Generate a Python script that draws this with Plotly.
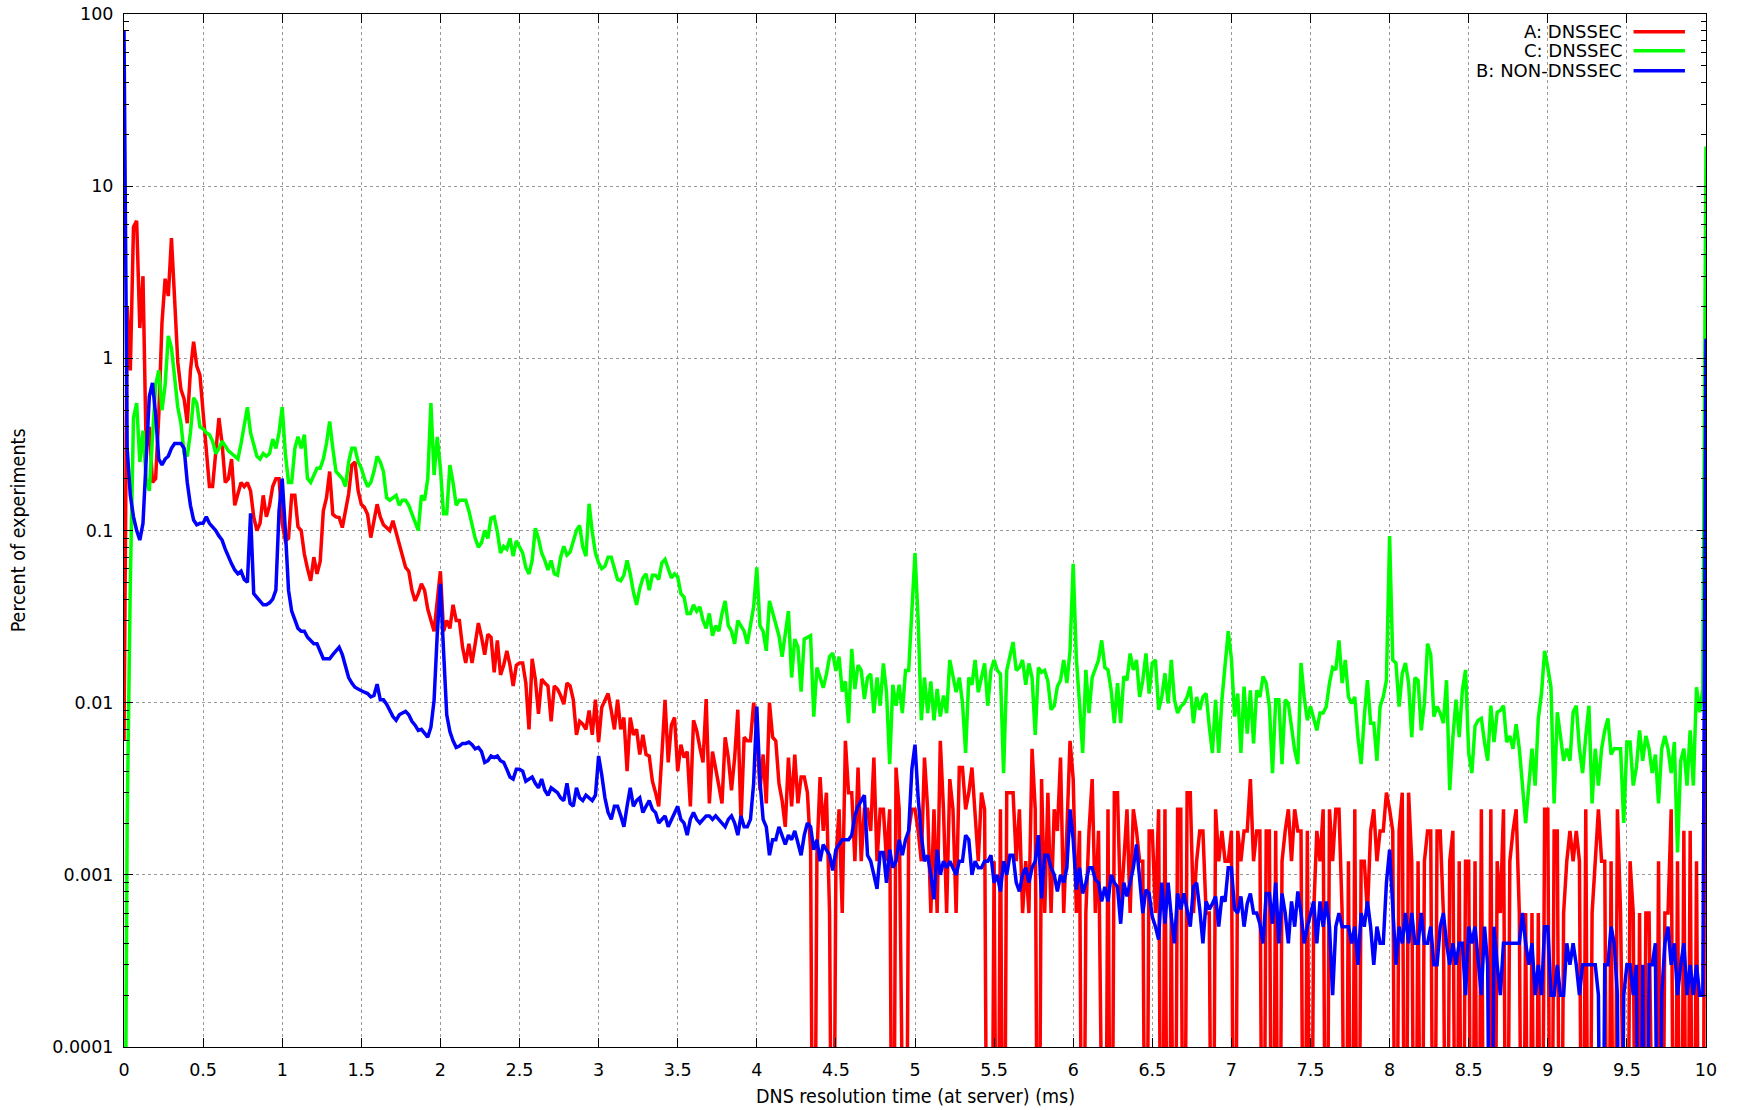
import plotly.graph_objects as go

# ---------------- data (percent of experiments per 0.02 ms bin) ----------------
BIN_MS = 0.02

red_a_dnssec = [
    0.006, 2.0, 0.85, 5.8, 6.3, 1.5, 3.0, 0.3, 0.4, 0.19, 0.2, 0.47, 1.6, 2.9, 2.3, 5.0, 2.2, 0.95, 0.66, 0.58, 0.42, 0.85, 1.25, 0.9, 0.8,
    0.5, 0.3, 0.18, 0.18, 0.3, 0.45, 0.32, 0.19, 0.2, 0.26, 0.14, 0.16, 0.19, 0.18, 0.19, 0.17, 0.12, 0.1, 0.11, 0.16, 0.12, 0.14, 0.18, 0.2, 0.2,
    0.11, 0.087, 0.09, 0.16, 0.16, 0.105, 0.1, 0.073, 0.06, 0.051, 0.07, 0.056, 0.066, 0.13, 0.155, 0.22, 0.124, 0.12, 0.119, 0.104, 0.13, 0.163, 0.24, 0.25, 0.17,
    0.142, 0.136, 0.124, 0.091, 0.114, 0.142, 0.12, 0.108, 0.104, 0.1, 0.114, 0.097, 0.085, 0.07, 0.061, 0.058, 0.045, 0.039, 0.043, 0.049, 0.045, 0.035, 0.03, 0.026, 0.039,
    0.058, 0.026, 0.03, 0.027, 0.037, 0.03, 0.03, 0.021, 0.017, 0.022, 0.017, 0.022, 0.029, 0.024, 0.019, 0.025, 0.024, 0.015, 0.023, 0.0145, 0.0165, 0.02, 0.0165, 0.0125, 0.0165,
    0.017, 0.017, 0.013, 0.007, 0.018, 0.0137, 0.0086, 0.0137, 0.013, 0.0125, 0.0078, 0.0125, 0.012, 0.011, 0.0098, 0.013, 0.0125, 0.0104, 0.0065, 0.0078, 0.0075, 0.007, 0.009, 0.0065, 0.0104,
    0.0059, 0.0094, 0.0104, 0.0113, 0.009, 0.007, 0.0104, 0.007, 0.0082, 0.004, 0.0082, 0.0065, 0.007, 0.005, 0.0065, 0.005, 0.0049, 0.0035, 0.003, 0.0025, 0.005, 0.0104, 0.0045, 0.0074, 0.0082,
    0.004, 0.0057, 0.0048, 0.0052, 0.0025, 0.0079, 0.0069, 0.0055, 0.0045, 0.0105, 0.0026, 0.0052, 0.004, 0.0033, 0.0026, 0.0063, 0.0048, 0.0031, 0.0048, 0.0091, 0.002, 0.0063, 0.006, 0.006, 0.01,
    0.0069, 0.0031, 0.005, 0.0026, 0.01, 0.0063, 0.006, 0.0034, 0.0027, 0.0019, 0.0048, 0.0025, 0.005, 0.0026, 0.0037, 0.0037, 0.003, 0.0014, 0, 0.0013, 0.0037, 0.0018, 0.003, 0.0006, 0,
    0.0012, 0.0024, 0.0006, 0.006, 0.003, 0.003, 0.0012, 0.0042, 0.0012, 0.0024, 0.0024, 0.0018, 0.0048, 0.0012, 0.0024, 0.0024, 0.0012, 0.0024, 0, 0.0042, 0.0024, 0, 0, 0.0018, 0.0024,
    0.0024, 0.0018, 0.0012, 0.0048, 0.0024, 0.0006, 0.0024, 0.0006, 0.006, 0.0024, 0.0006, 0.0036, 0.0024, 0.0006, 0.0042, 0.0042, 0.0024, 0.003, 0.0042, 0.0024, 0.0012, 0.003, 0.0024, 0, 0,
    0.0012, 0, 0.0024, 0, 0.003, 0.003, 0.003, 0.0012, 0.0024, 0.0006, 0.0012, 0.0006, 0.0054, 0.0024, 0, 0.0036, 0.0006, 0.003, 0.0006, 0.0024, 0.0018, 0.0048, 0.0006, 0.0018, 0.006,
    0.0036, 0.0006, 0.0018, 0, 0.0006, 0.0018, 0.0036, 0.0006, 0.0018, 0, 0, 0.0024, 0, 0.003, 0.003, 0.0006, 0.0012, 0.0024, 0.0006, 0.0024, 0.0018, 0.0012, 0.0012, 0, 0.0018,
    0.0018, 0.0006, 0.0024, 0, 0.0024, 0, 0.0006, 0, 0.0024, 0.0024, 0, 0.003, 0.003, 0.0006, 0.0012, 0.0018, 0.0018, 0.0006, 0.0006, 0, 0.0024, 0.0012, 0.0018, 0.0012, 0.0012,
    0.0018, 0, 0.0018, 0.0012, 0.0018, 0.0018, 0.0036, 0.0012, 0.0018, 0.0018, 0, 0.0018, 0.0018, 0, 0.0018, 0, 0.0012, 0.0018, 0.0024, 0.0012, 0.0024, 0.0018, 0.0018, 0, 0.0018,
    0, 0.0006, 0.0018, 0.0012, 0.0024, 0, 0.0024, 0.0012, 0.0024, 0.0024, 0.0006, 0, 0.0012, 0, 0.0024, 0, 0.0012, 0.0012, 0.0006, 0.0018, 0.0024, 0.0012, 0.0018, 0.0018, 0.003,
    0.0024, 0.0018, 0, 0.0018, 0.003, 0, 0.003, 0.0012, 0, 0.0012, 0, 0.0012, 0.0018, 0.0018, 0, 0.0018, 0.0018, 0.0006, 0, 0.0012, 0.0018, 0, 0.0012, 0, 0.0012,
    0.0012, 0, 0.0012, 0, 0.0024, 0, 0, 0.0024, 0, 0.0012, 0.0006, 0.0024, 0, 0.0012, 0.0018, 0.0024, 0.0006, 0, 0.0006, 0, 0.0006, 0, 0.0006, 0, 0.0024,
    0.0024, 0, 0.0018, 0.0018, 0, 0.0006, 0.0012, 0.0018, 0.0012, 0.0018, 0.0012, 0, 0.0024, 0, 0.0006, 0.0012, 0.0024, 0.0012, 0.0012, 0, 0.0012, 0, 0.0024, 0.0006, 0,
    0, 0.0012, 0.0006, 0, 0.0006, 0, 0.0006, 0.0006, 0, 0, 0.0012, 0, 0.0006, 0.0006, 0.0024, 0, 0.0012, 0, 0.0018, 0, 0.0018, 0, 0.0012, 0, 0,
    2.7,
]

green_c_dnssec = [
    0, 0.002, 0.05, 0.45, 0.55, 0.25, 0.38, 0.2, 0.17, 0.35, 0.7, 0.85, 0.5, 0.7, 1.35, 1.15, 0.75, 0.52, 0.42, 0.28, 0.27, 0.37, 0.59, 0.55, 0.4,
    0.39, 0.37, 0.36, 0.33, 0.28, 0.3, 0.33, 0.31, 0.29, 0.28, 0.27, 0.26, 0.32, 0.4, 0.52, 0.37, 0.31, 0.27, 0.26, 0.28, 0.27, 0.28, 0.34, 0.3, 0.37,
    0.52, 0.28, 0.19, 0.19, 0.3, 0.35, 0.3, 0.36, 0.2, 0.19, 0.21, 0.23, 0.23, 0.26, 0.32, 0.43, 0.3, 0.22, 0.21, 0.2, 0.18, 0.25, 0.3, 0.3, 0.25,
    0.23, 0.2, 0.18, 0.19, 0.22, 0.27, 0.25, 0.22, 0.155, 0.15, 0.155, 0.16, 0.14, 0.15, 0.15, 0.14, 0.125, 0.11, 0.1, 0.16, 0.15, 0.2, 0.55, 0.21, 0.35,
    0.23, 0.125, 0.125, 0.24, 0.19, 0.14, 0.15, 0.15, 0.15, 0.13, 0.11, 0.09, 0.08, 0.085, 0.1, 0.09, 0.118, 0.12, 0.098, 0.074, 0.081, 0.078, 0.09, 0.071, 0.087,
    0.08, 0.074, 0.061, 0.056, 0.067, 0.103, 0.09, 0.074, 0.067, 0.059, 0.067, 0.056, 0.055, 0.07, 0.081, 0.072, 0.075, 0.088, 0.1, 0.107, 0.08, 0.071, 0.143, 0.098, 0.074,
    0.065, 0.06, 0.062, 0.07, 0.07, 0.06, 0.052, 0.051, 0.055, 0.067, 0.056, 0.044, 0.037, 0.046, 0.053, 0.056, 0.045, 0.055, 0.055, 0.052, 0.065, 0.068, 0.06, 0.053, 0.056,
    0.054, 0.043, 0.041, 0.033, 0.033, 0.037, 0.034, 0.036, 0.03, 0.027, 0.033, 0.0245, 0.028, 0.026, 0.033, 0.039, 0.028, 0.026, 0.022, 0.03, 0.028, 0.026, 0.022, 0.028, 0.036,
    0.061, 0.028, 0.026, 0.02, 0.039, 0.033, 0.028, 0.0245, 0.0185, 0.026, 0.034, 0.014, 0.0234, 0.021, 0.0116, 0.0234, 0.024, 0.0245, 0.0083, 0.016, 0.014, 0.0122, 0.0146, 0.0185, 0.0194,
    0.0153, 0.0185, 0.0116, 0.0133, 0.0076, 0.0205, 0.012, 0.0165, 0.0154, 0.0105, 0.014, 0.0147, 0.0087, 0.014, 0.0096, 0.0169, 0.0115, 0.0044, 0.0127, 0.0096, 0.0127, 0.0087, 0.0154, 0.0154, 0.036,
    0.074, 0.03, 0.0079, 0.014, 0.0087, 0.0133, 0.0079, 0.012, 0.0083, 0.011, 0.0087, 0.0177, 0.014, 0.0115, 0.014, 0.01, 0.0051, 0.014, 0.0127, 0.0177, 0.0115, 0.014, 0.0169, 0.0096, 0.0154,
    0.0177, 0.0154, 0.0147, 0.0039, 0.0154, 0.0186, 0.0225, 0.0154, 0.016, 0.0177, 0.0127, 0.0169, 0.014, 0.0065, 0.016, 0.015, 0.0154, 0.0133, 0.0091, 0.0096, 0.0124, 0.0135, 0.0177, 0.013, 0.02,
    0.064, 0.018, 0.0099, 0.0051, 0.0155, 0.0087, 0.014, 0.016, 0.0177, 0.023, 0.016, 0.0155, 0.0118, 0.0076, 0.013, 0.0076, 0.0142, 0.0135, 0.0193, 0.0155, 0.0177, 0.0108, 0.0135, 0.0193, 0.0113,
    0.017, 0.0177, 0.0091, 0.0108, 0.0148, 0.0099, 0.0177, 0.0104, 0.0087, 0.0095, 0.0099, 0.0108, 0.0124, 0.0076, 0.0108, 0.0091, 0.0108, 0.0113, 0.0073, 0.0051, 0.0104, 0.0051, 0.0104, 0.017, 0.026,
    0.018, 0.0083, 0.0113, 0.0051, 0.0124, 0.0066, 0.0118, 0.0058, 0.0118, 0.0108, 0.0142, 0.013, 0.0095, 0.0039, 0.0104, 0.0104, 0.0044, 0.0104, 0.0099, 0.0073, 0.0053, 0.0044, 0.017, 0.0108, 0.0079,
    0.0095, 0.0079, 0.0069, 0.0087, 0.0087, 0.0095, 0.013, 0.016, 0.0155, 0.023, 0.013, 0.0177, 0.0108, 0.0099, 0.0108, 0.0063, 0.0044, 0.0083, 0.0135, 0.0076, 0.0076, 0.0046, 0.0095, 0.0108, 0.0135,
    0.093, 0.0177, 0.017, 0.0095, 0.0148, 0.017, 0.013, 0.0063, 0.014, 0.0135, 0.0069, 0.0099, 0.022, 0.019, 0.0083, 0.0095, 0.0087, 0.0076, 0.0135, 0.0031, 0.0063, 0.0104, 0.0063, 0.0118, 0.0155,
    0.0051, 0.0039, 0.0073, 0.0079, 0.0081, 0.0059, 0.0046, 0.0096, 0.0059, 0.0088, 0.009, 0.0096, 0.0059, 0.0064, 0.0054, 0.0075, 0.0054, 0.0033, 0.002, 0.0033, 0.0054, 0.0033, 0.0081, 0.0113, 0.02,
    0.016, 0.0123, 0.0026, 0.0088, 0.0064, 0.0046, 0.0054, 0.0046, 0.0088, 0.0096, 0.0054, 0.0039, 0.0064, 0.0096, 0.0026, 0.0054, 0.0033, 0.0054, 0.0069, 0.0081, 0.005, 0.0054, 0.0054, 0.0054, 0.002,
    0.0059, 0.0059, 0.0033, 0.0042, 0.0069, 0.0046, 0.0064, 0.0054, 0.0039, 0.005, 0.0026, 0.0054, 0.0064, 0.0054, 0.0039, 0.0059, 0.00135, 0.0046, 0.0054, 0.0033, 0.0069, 0.0033, 0.0123, 0.0088, 0.012,
    17.0,
]

blue_b_non_dnssec = [
    80, 0.3, 0.16, 0.12, 0.1, 0.088, 0.11, 0.25, 0.6, 0.72, 0.47, 0.26, 0.24, 0.26, 0.27, 0.3, 0.32, 0.32, 0.32, 0.3, 0.19, 0.14, 0.115, 0.108, 0.11,
    0.11, 0.12, 0.11, 0.105, 0.1, 0.093, 0.088, 0.078, 0.07, 0.064, 0.059, 0.056, 0.058, 0.052, 0.05, 0.126, 0.043, 0.041, 0.039, 0.037, 0.037, 0.038, 0.04, 0.045, 0.13,
    0.2, 0.1, 0.045, 0.034, 0.03, 0.027, 0.026, 0.026, 0.024, 0.023, 0.022, 0.022, 0.02, 0.018, 0.018, 0.018, 0.019, 0.02, 0.021, 0.019, 0.016, 0.014, 0.013, 0.0123, 0.012,
    0.0117, 0.0115, 0.0113, 0.0108, 0.011, 0.0128, 0.0104, 0.0104, 0.0098, 0.009, 0.0083, 0.0079, 0.0085, 0.0087, 0.0089, 0.0085, 0.0078, 0.0074, 0.0069, 0.007, 0.0066, 0.0063, 0.0072, 0.0103, 0.025,
    0.049, 0.02, 0.0085, 0.0068, 0.006, 0.0055, 0.0056, 0.0058, 0.0058, 0.0059, 0.0057, 0.0054, 0.0055, 0.0052, 0.0045, 0.0046, 0.0049, 0.0048, 0.0049, 0.0046, 0.0045, 0.0041, 0.0037, 0.0036, 0.0041,
    0.0041, 0.004, 0.0035, 0.0036, 0.0037, 0.0034, 0.0032, 0.0036, 0.0031, 0.0029, 0.0032, 0.0031, 0.003, 0.0028, 0.0027, 0.0034, 0.0026, 0.0025, 0.0032, 0.0028, 0.0027, 0.0029, 0.0028, 0.0027, 0.0029,
    0.0049, 0.0038, 0.0028, 0.0023, 0.0021, 0.0025, 0.0025, 0.0022, 0.0019, 0.0025, 0.0032, 0.0025, 0.0027, 0.0028, 0.0023, 0.0025, 0.0027, 0.0024, 0.0023, 0.002, 0.0021, 0.0022, 0.0019, 0.0021, 0.0023,
    0.0025, 0.0021, 0.002, 0.0017, 0.0021, 0.0023, 0.0021, 0.002, 0.0021, 0.0022, 0.0022, 0.0021, 0.0022, 0.0021, 0.002, 0.0019, 0.0021, 0.0022, 0.002, 0.0017, 0.0022, 0.0019, 0.0019, 0.0021, 0.0034,
    0.0095, 0.0035, 0.0021, 0.0019, 0.0013, 0.0016, 0.0016, 0.0019, 0.0017, 0.0015, 0.0017, 0.0016, 0.0018, 0.0015, 0.0013, 0.0017, 0.002, 0.0019, 0.0014, 0.0016, 0.0012, 0.0015, 0.0014, 0.0013, 0.00106,
    0.0014, 0.0015, 0.0016, 0.0016, 0.0016, 0.0017, 0.0022, 0.0025, 0.0027, 0.0029, 0.0013, 0.0012, 0.001, 0.00083, 0.00135, 0.00135, 0.0009, 0.0014, 0.0011, 0.0012, 0.0016, 0.0013, 0.0016, 0.0018, 0.0041,
    0.0057, 0.0028, 0.0017, 0.0012, 0.0013, 0.001, 0.00072, 0.0014, 0.001, 0.0012, 0.0011, 0.0012, 0.0011, 0.001, 0.0012, 0.0012, 0.0017, 0.0016, 0.001, 0.0012, 0.0011, 0.0011, 0.0012, 0.0012, 0.0013,
    0.0009, 0.001, 0.0008, 0.0012, 0.001, 0.0013, 0.0013, 0.0009, 0.0008, 0.001, 0.0011, 0.0009, 0.0011, 0.0012, 0.0017, 0.00073, 0.0013, 0.0013, 0.0011, 0.001, 0.0008, 0.001, 0.0009, 0.0011, 0.0024,
    0.0016, 0.00082, 0.0011, 0.00078, 0.0009, 0.0011, 0.0011, 0.00094, 0.0009, 0.0007, 0.00085, 0.0007, 0.001, 0.0009, 0.00085, 0.00052, 0.0009, 0.00075, 0.0009, 0.0011, 0.0015, 0.0009, 0.0006, 0.00082, 0.00078,
    0.00057, 0.0005, 0.00042, 0.0009, 0.00052, 0.0009, 0.00057, 0.0004, 0.00078, 0.00063, 0.00078, 0.00063, 0.0005, 0.00085, 0.0009, 0.00063, 0.0004, 0.0007, 0.00063, 0.00068, 0.00075, 0.0005, 0.00075, 0.0007, 0.0011,
    0.0011, 0.00063, 0.0006, 0.00075, 0.0005, 0.00068, 0.00078, 0.0006, 0.0006, 0.00052, 0.0004, 0.00078, 0.00078, 0.00052, 0.0009, 0.0004, 0.00078, 0.0006, 0.0004, 0.0007, 0.0005, 0.0008, 0.0006, 0.0004, 0.0005,
    0.0006, 0.0007, 0.0004, 0.0007, 0.0005, 0.0007, 0.0005, 0.0002, 0.0005, 0.0006, 0.0005, 0.0005, 0.0005, 0.0004, 0.0005, 0.0003, 0.0006, 0.0005, 0.0007, 0.0005, 0.0003, 0.0005, 0.0004, 0.0004, 0.0009,
    0.0014, 0.0007, 0.0003, 0.0005, 0.0004, 0.0006, 0.0004, 0.0006, 0.0004, 0.0004, 0.0006, 0.0004, 0.0004, 0.0005, 0.0003, 0.0003, 0.0005, 0.0006, 0.0004, 0.0003, 0.0004, 0.0003, 0.0004, 0.0004, 0.0002,
    0.0005, 0.0004, 0.0005, 0.0003, 0.0002, 0.0005, 0.0003, 0, 0.0005, 0.0003, 0.0002, 0.0004, 0.0004, 0.0004, 0.0004, 0.0004, 0.0004, 0.0006, 0.0004, 0.0003, 0.0004, 0.0002, 0.0003, 0.0002, 0.0005,
    0.0005, 0.0002, 0.0002, 0.0003, 0.0002, 0.0002, 0.0004, 0.0003, 0.0004, 0.0003, 0.0002, 0.0003, 0.0003, 0.0003, 0.0003, 0.0003, 0.0002, 0, 0.0003, 0.0003, 0.0005, 0.0004, 0.0002, 0, 0.0002,
    0.0003, 0.0003, 0.0002, 0.0003, 0, 0.0003, 0, 0.0003, 0.0003, 0.0004, 0, 0.0002, 0.0004, 0.0005, 0.0003, 0.0004, 0.0002, 0.0003, 0.0004, 0.0002, 0.0003, 0.0002, 0.0003, 0.0002, 0.0002,
    1.3,
]

series_names = ["A: DNSSEC", "C: DNSSEC", "B: NON-DNSSEC"]
series_colors = ["#ff0000", "#00ff00", "#0000ff"]

x_tick_vals = [0, 0.5, 1, 1.5, 2, 2.5, 3, 3.5, 4, 4.5, 5, 5.5, 6, 6.5, 7, 7.5, 8, 8.5, 9, 9.5, 10]
x_tick_text = ["0", "0.5", "1", "1.5", "2", "2.5", "3", "3.5", "4", "4.5", "5", "5.5", "6", "6.5", "7",
               "7.5", "8", "8.5", "9", "9.5", "10"]
y_tick_vals = [0.0001, 0.001, 0.01, 0.1, 1, 10, 100]
y_tick_text = ["0.0001", "0.001", "0.01", "0.1", "1", "10", "100"]

x_title = "DNS resolution time (at server) (ms)"
y_title = "Percent of experiments"

# ---------------- figure ----------------
FLOOR = 1e-6  # empty bins: drawn straight down through the bottom of the log axis

fig = go.Figure()
for name, color, vals in zip(series_names, series_colors,
                             [red_a_dnssec, green_c_dnssec, blue_b_non_dnssec]):
    t = [round(i * BIN_MS, 2) for i in range(len(vals))]
    y = [v if v > 0 else FLOOR for v in vals]
    fig.add_trace(go.Scatter(x=t, y=y, mode="lines", name=name,
                             line=dict(color=color, width=3.5), showlegend=False,
                             hoverinfo="skip"))

minor_vals = [m * 10.0 ** e for e in range(-4, 2) for m in range(2, 10)]

axis_common = dict(
    showline=True, linecolor="black", linewidth=1, mirror="allticks",
    ticks="inside", ticklen=9, tickwidth=1, tickcolor="black",
    showgrid=True, gridcolor="#9a9a9a", griddash="dot", gridwidth=1,
    zeroline=False, automargin=False,
    tickfont=dict(family="DejaVu Sans", size=17.5, color="black"),
)

fig.update_layout(
    width=1741, height=1110,
    margin=dict(l=124, r=35, t=14, b=63),
    paper_bgcolor="white", plot_bgcolor="white",
    font=dict(family="DejaVu Sans", size=17, color="black"),
    xaxis=dict(range=[0, 10], tickmode="array", tickvals=x_tick_vals, ticktext=x_tick_text,
               ticklabelstandoff=7, **axis_common),
    yaxis=dict(type="log", range=[-4, 2], tickmode="array", tickvals=y_tick_vals,
               ticktext=y_tick_text, ticklabelstandoff=6,
               minor=dict(tickmode="array", tickvals=minor_vals, ticks="inside", ticklen=5,
                          tickcolor="black", showgrid=False),
               **axis_common),
    hovermode=False,
)

title_font = dict(family="DejaVu Sans Condensed, Liberation Sans Narrow, DejaVu Sans", size=19.5, color="black")
fig.add_annotation(text=x_title, xref="paper", yref="paper", x=0.5, y=-0.048,
                   xanchor="center", yanchor="middle", showarrow=False, font=title_font)
fig.add_annotation(text=y_title, xref="paper", yref="paper", x=-0.0665, y=0.5,
                   xanchor="center", yanchor="middle", textangle=-90, showarrow=False,
                   font=title_font)

# gnuplot-style key: right-aligned text, line sample to its right
key_rows_y = [0.9828, 0.9645, 0.9451]
for name, color, ky in zip(series_names, series_colors, key_rows_y):
    fig.add_annotation(text=name, xref="paper", yref="paper", x=0.9481, y=ky,
                       xanchor="right", yanchor="middle", showarrow=False,
                       font=dict(family="DejaVu Sans", size=18, color="black"))
    fig.add_shape(type="line", xref="paper", yref="paper", x0=0.9542, x1=0.9867,
                  y0=ky, y1=ky, line=dict(color=color, width=3.5))

fig.write_html("out.html", config={"displayModeBar": False})
